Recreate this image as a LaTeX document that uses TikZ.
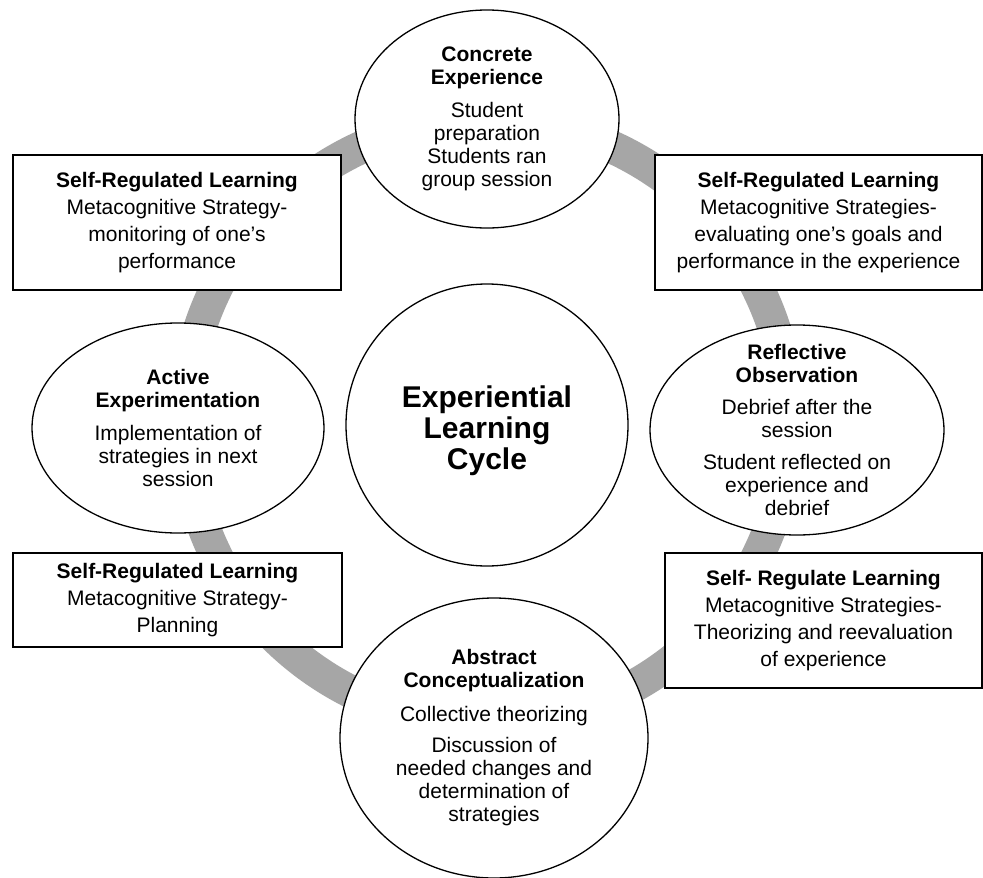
\documentclass[tikz,border=0pt]{standalone}
\usepackage{fontspec}
\setmainfont{Liberation Sans}
\usetikzlibrary{shapes.geometric}
\definecolor{ringgray}{HTML}{A6A6A6}
\begin{document}
\begin{tikzpicture}[x=1pt,y=-1pt,
  ringline/.style={draw=ringgray, line width=33pt},
  stage/.style={ellipse, draw=black, line width=1.3pt, fill=white, inner sep=0pt},
  stagetext/.style={align=center, inner sep=0pt, font=\fontsize{21}{23}\selectfont},
  srlbox/.style={rectangle, draw=black, line width=1.6pt, fill=white, inner sep=0pt, align=center, font=\fontsize{21}{27}\selectfont},
  hub/.style={circle, draw=black, line width=1.3pt, fill=white, inner sep=0pt, minimum size=282pt},
  hubtext/.style={align=center, inner sep=0pt, font=\bfseries\fontsize{30}{31}\selectfont}]
\path[use as bounding box, fill=white] (0,0) rectangle (983,878);
\coordinate (cc) at (487,422);
\draw[ringline] (cc) circle[radius=302];

% boxes
\node[srlbox, minimum width=328pt, minimum height=135pt] (tl) at (177,222.5)
  {\textbf{Self-Regulated Learning}\\Metacognitive Strategy-\\monitoring of one's\\performance};
\node[srlbox, minimum width=327pt, minimum height=135pt] (tr) at (818.5,222.5)
  {\textbf{Self-Regulated Learning}\\Metacognitive Strategies-\\evaluating one's goals and\\performance in the experience};
\node[srlbox, minimum width=329pt, minimum height=94pt] (bl) at (177.5,600)
  {\textbf{Self-Regulated Learning}\\Metacognitive Strategy-\\Planning};
\node[srlbox, minimum width=317pt, minimum height=135pt] (br) at (823.5,620.5)
  {\textbf{Self- Regulate Learning}\\Metacognitive Strategies-\\Theorizing and reevaluation\\of experience};

% stages
\node[stage, minimum width=264pt, minimum height=218pt] (ce) at (487,119) {};
\node[stagetext] (ce-t) at (ce) {\textbf{Concrete}\\\textbf{Experience}\\[10pt]Student\\preparation\\Students ran\\group session};

\node[stage, minimum width=292pt, minimum height=210pt] (ae) at (178,428) {};
\node[stagetext] (ae-t) at (ae) {\textbf{Active}\\\textbf{Experimentation}\\[10pt]Implementation of\\strategies in next\\session};

\node[stage, minimum width=294pt, minimum height=210pt] (ro) at (797,430) {};
\node[stagetext] (ro-t) at (ro) {\textbf{Reflective}\\\textbf{Observation}\\[9pt]Debrief after the\\session\\[9pt]Student reflected on\\experience and\\debrief};

\node[stage, minimum width=308pt, minimum height=280pt] (ac) at (494,738) {};
\node[stagetext] (ac-t) at (ac) {\textbf{Abstract}\\\textbf{Conceptualization}\\[11pt]Collective theorizing\\[8pt]Discussion of\\needed changes and\\determination of\\strategies};

\node[hub] (hub) at (487,425) {};
\node[hubtext] (hub-t) at (487,431) {Experiential\\Learning\\Cycle};
\end{tikzpicture}
\end{document}
